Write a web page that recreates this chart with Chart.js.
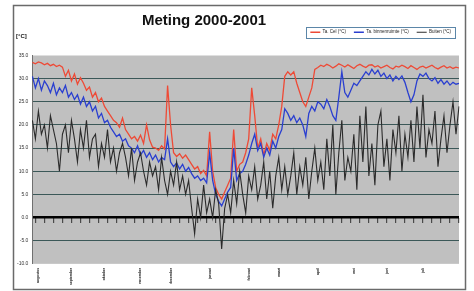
<!DOCTYPE html>
<html><head><meta charset="utf-8">
<script src="https://cdn.jsdelivr.net/npm/chart.js@4/dist/chart.umd.min.js"></script>
<style>html,body{margin:0;padding:0;background:#fff;}#c{display:block;}</style>
</head><body>
<canvas id="c" width="474" height="291"></canvas>
<script>
const TITLE = 'Meting 2000-2001';
const UNIT = '[°C]';
const seriesNames = ['Ta. Cel (°C)', 'Ta. binnenruimte (°C)', 'Buiten (°C)'];
const monthNames = ['augustus','september','oktober','november','december','januari','februari','maart','april','mei','juni','juli'];
const monthIndex = [2,13,24,36,46,59,72,82,95,107,118,130];
const yTicks = {min: -10, max: 35, step: 5};

const taCel = [33.5,33.2,33.6,33.4,33.0,33.3,32.8,33.1,32.6,32.9,32.5,30.5,31.8,29.5,31.0,28.8,30.2,
29.0,27.5,28.2,26.0,27.0,25.0,25.8,24.0,23.0,
22.0,21.0,20.5,19.5,21.5,19.0,18.0,
17.0,17.5,16.5,17.8,16.0,20.0,16.8,15.2,
15.0,14.5,15.5,14.8,
28.5,20.0,
14.0,13.2,13.8,12.8,13.5,12.5,
11.5,10.5,11.0,9.5,10.2,9.0,
18.5,10.0,
6.5,5.0,4.0,5.5,7.0,8.5,
19.0,10.0,11.5,12.0,
14.0,17.0,28.0,
22.0,15.0,17.0,13.5,16.0,14.5,18.0,
17.0,20.0,24.0,30.5,
31.5,30.8,31.5,29.0,
27.0,25.0,24.0,26.0,28.0,
32.0,
32.4,32.9,32.6,33.1,32.8,32.3,32.7,33.2,32.9,32.5,
33.0,32.6,32.2,32.8,33.1,32.7,32.4,32.9,33.0,32.5,
32.8,32.3,32.6,32.9,32.4,32.1,32.7,32.5,32.9,32.6,
32.2,32.8,32.4,32.0,32.5,32.7,32.3,32.6,32.9,32.4,
32.1,32.5,32.8,32.3,32.6,32.2,32.5,32.3];

const taBinnen = [30.5,28.0,30.0,27.5,29.5,28.5,27.0,29.0,26.5,28.0,27.0,
28.5,26.0,27.0,25.5,26.5,24.5,
26.0,24.0,25.0,23.0,24.0,21.5,22.5,20.5,21.0,
19.5,18.5,17.5,18.0,16.5,17.0,15.5,
15.0,14.0,15.5,13.5,14.5,13.0,14.0,12.5,13.5,12.0,13.0,12.5,
17.0,
12.0,11.0,11.8,10.5,11.5,10.0,10.8,
9.5,8.5,9.0,8.0,8.5,7.5,
14.0,8.0,
5.0,3.5,2.5,4.0,5.5,6.5,
15.0,8.0,9.5,10.0,
11.5,13.5,16.0,
18.0,14.5,16.0,13.0,15.0,13.5,16.5,
15.0,17.5,19.0,23.5,
22.5,21.0,22.0,20.5,21.5,
20.0,17.5,
22.5,24.0,23.0,25.0,24.5,23.5,25.5,24.0,
22.0,21.0,26.0,31.5,
27.0,26.0,27.5,
29.0,28.5,29.5,
30.5,31.5,30.8,32.0,31.0,31.8,30.5,31.2,
30.0,30.8,29.5,30.5,29.8,30.6,29.2,
27.0,25.0,26.5,
29.5,31.0,30.5,31.2,
30.0,29.5,30.2,29.0,29.8,28.8,29.5,28.6,29.2,28.8,29.0];

const buiten = [21,17,23,18,20,15,22,19,16,10,18,
20,14,21,17,12,19,15,21,13,17,
18,11,16,13,19,12,15,10,14,16,
13,9,15,8,12,14,10,7,12,9,
11,6,13,8,5,10,7,12,6,9,
5,8,2,-3.5,4,0,7,1,
4,0,6,3,-6.8,2,5,1,
8,3,10,5,1,9,6,11,4,
7,12,4,10,2,9,13,6,11,5,
9,14,5,11,7,13,4,10,15,8,
12,6,17,9,20,5,14,21,8,13,
10,18,6,22,12,24,9,16,7,20,
23,11,17,8,19,14,22,10,18,13,
21,12,24,15,26.5,13,19,16,23,11,
17,22,14,20,25,18,24];

const categories = taCel.map((_, i) => i);
const FONT = '"Liberation Sans", Arial, sans-serif';

const legendSpace = {
  id: 'legendSpace',
  beforeInit(chart) {
    const fit = chart.legend.fit;
    chart.legend.fit = function () { fit.call(this); this.height += 11; };
  }
};

const frameAndText = {
  id: 'frameAndText',
  beforeDraw(chart) {
    const {ctx, chartArea: a} = chart;
    ctx.save();
    ctx.fillStyle = '#ffffff';
    ctx.fillRect(0, 0, chart.width, chart.height);
    ctx.strokeStyle = '#6a6a6a';
    ctx.lineWidth = 1.5;
    ctx.strokeRect(13.5, 5.5, 452, 284);
    ctx.fillStyle = '#c0c0c0';
    ctx.fillRect(a.left, a.top, a.right - a.left, a.bottom - a.top);
    ctx.restore();
  },
  afterDraw(chart) {
    const ctx = chart.ctx;
    ctx.save();
    ctx.fillStyle = '#111';
    ctx.font = 'bold 15px ' + FONT;
    ctx.textAlign = 'center';
    ctx.textBaseline = 'alphabetic';
    ctx.fillText(TITLE, 204, 25);
    ctx.font = 'bold 6px ' + FONT;
    ctx.textAlign = 'left';
    ctx.fillText(UNIT, 16, 38);
    const hb = chart.legend.legendHitBoxes;
    if (hb && hb.length) {
      const l = Math.min(...hb.map(b => b.left)) - 4;
      const r = Math.max(...hb.map(b => b.left + b.width)) + 4;
      const t = Math.min(...hb.map(b => b.top)) - 3;
      const bt = Math.max(...hb.map(b => b.top + b.height)) + 3;
      ctx.strokeStyle = '#5b86a8';
      ctx.lineWidth = 1;
      ctx.strokeRect(Math.round(l) + 0.5, Math.round(t) + 0.5, Math.round(r - l), Math.round(bt - t));
    }
    ctx.restore();
  }
};

new Chart(document.getElementById('c'), {
  type: 'line',
  data: {
    labels: categories,
    datasets: [
      {label: seriesNames[0], data: taCel, borderColor: '#ee4a36', backgroundColor: '#ee4a36', borderWidth: 1.3, pointRadius: 0, order: 2},
      {label: seriesNames[1], data: taBinnen, borderColor: '#2a3fd0', backgroundColor: '#2a3fd0', borderWidth: 1.3, pointRadius: 0, order: 1},
      {label: seriesNames[2], data: buiten, borderColor: '#2b2b2b', backgroundColor: '#2b2b2b', borderWidth: 1.1, pointRadius: 0, order: 0}
    ]
  },
  options: {
    responsive: false,
    devicePixelRatio: 1,
    animation: false,
    layout: {padding: {left: 13, right: 15, top: 22, bottom: 2}},
    plugins: {
      title: {display: false},
      tooltip: {enabled: false},
      legend: {
        position: 'top', align: 'end',
        labels: {
          usePointStyle: true, pointStyle: 'line', pointStyleWidth: 10,
          padding: 8, color: '#222', font: {size: 4.5, family: FONT},
          sort: (a, b) => a.datasetIndex - b.datasetIndex
        }
      }
    },
    scales: {
      x: {
        type: 'category',
        grid: {display: false, drawTicks: false},
        border: {display: false},
        ticks: {
          autoSkip: false, maxRotation: 90, minRotation: 90, padding: 4,
          color: '#222', font: {size: 3.4, family: FONT, weight: 'bold'},
          callback: (v, i) => { const k = monthIndex.indexOf(i); return k >= 0 ? monthNames[k] : ''; }
        }
      },
      x2: {
        type: 'category',
        position: {y: 0},
        border: {display: false},
        ticks: {display: false},
        grid: {
          drawOnChartArea: false, drawTicks: true, tickLength: 5, lineWidth: 1.2,
          color: c => (c.index % 3 === 1 ? '#4a4a4a' : 'rgba(0,0,0,0)')
        }
      },
      y: {
        min: yTicks.min, max: yTicks.max,
        border: {display: true, color: '#707070', width: 1},
        ticks: {
          stepSize: yTicks.step, padding: 4, color: '#333',
          font: {size: 5, family: FONT},
          callback: v => v.toFixed(1)
        },
        grid: {
          drawTicks: false,
          color: c => (c.tick.value === 0 ? '#000000' : (c.tick.value === yTicks.max || c.tick.value === yTicks.min) ? 'rgba(0,0,0,0)' : '#3b5858'),
          lineWidth: c => (c.tick.value === 0 ? 2.5 : 1)
        }
      }
    }
  },
  plugins: [legendSpace, frameAndText]
});
</script>
</body></html>
